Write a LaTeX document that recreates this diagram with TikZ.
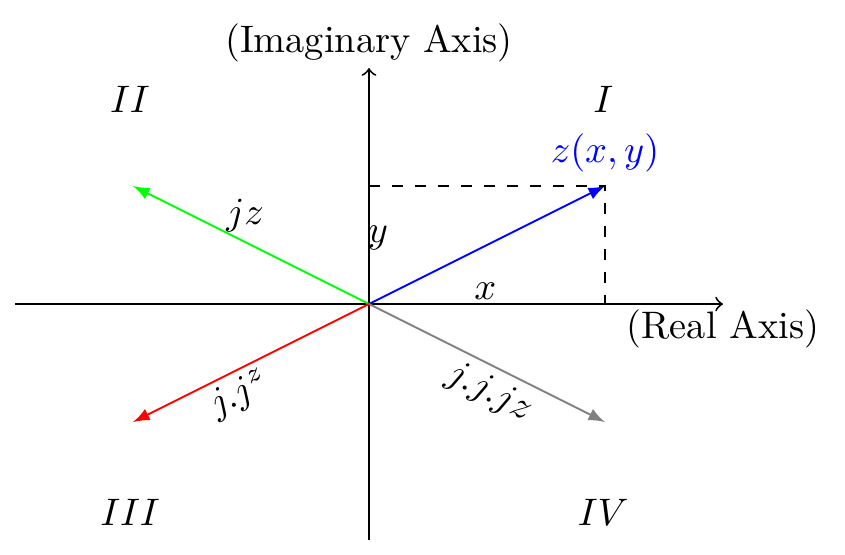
\documentclass[tikz,border=0pt]{standalone}
\usetikzlibrary{positioning}
\begin{document}
\begin{tikzpicture}[x=15.4pt,y=15.4pt,line width=0.5pt]
        \useasboundingbox (-6.254,-4.237) rectangle (8.068,5.153);
        % axes
        \coordinate (O) at (0,0);
        \coordinate (xl) at (-6,0);
        \coordinate (xr) at (6,0);
        \coordinate (yb) at (0,-4);
        \coordinate (yt) at (0,4);
        \coordinate (ya) at (0,2);
        \coordinate (xa) at (4,0);
        \draw[->] (xl) -- (xr) node[below,inner sep=1.2pt] {(Real Axis)};
        \draw[->] (yb) -- (yt) node[above,inner sep=1.2pt] {(Imaginary Axis)};

        % vectors
        \coordinate (z) at (4,2);
        \coordinate (jz) at (-4,2);
        \coordinate (jjz) at (-4,-2);
        \coordinate (jjjz) at (4,-2);
        \draw[blue,-latex] (O) -- (z) node[above] {$z(x,y)$};
        \draw[green,-latex] (O) -- (jz);
        \draw[red,-latex] (O) -- (jjz);
        \draw[gray,-latex] (O) -- (jjjz);
        \draw[dashed] (ya) -- (z) -- (xa);

        \node (lx) at (1.97,0.22) {$x$};
        \node (ly) at (0.15,1.12) {$y$};
        \node (ljz) at (-2.1,1.5) {$jz$};
        \node (ljjz) [rotate=26.57] at (-2.19,-1.54) {$j.j^z$};
        \node (ljjjz) [rotate=-26.57] at (2.05,-1.51) {$j.j.jz$};

        % quadrants
        \node (q1) at (3.97,3.46) {$I$};
        \node (q2) at (-4.05,3.46) {$II$};
        \node (q3) at (-4.05,-3.53) {$III$};
        \node (q4) at (3.97,-3.53) {$IV$};
\end{tikzpicture}
\end{document}
